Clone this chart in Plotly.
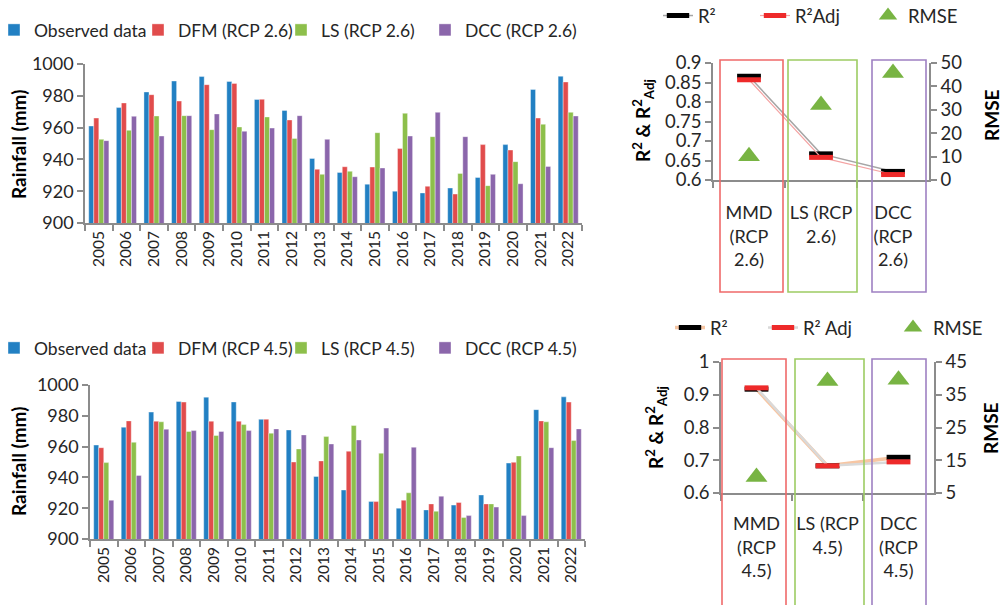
import plotly.graph_objects as go

# ---- annual rainfall (mm), observed vs. downscaled projections ----
years = [str(y) for y in range(2005, 2023)]
observed = [961.0, 972.6, 982.4, 989.3, 992.1, 989.0, 977.7, 970.8, 940.6,
            931.8, 924.4, 920.0, 918.9, 922.0, 928.6, 949.3, 984.0, 992.3]

dfm_26 = [966.0, 975.5, 980.7, 976.7, 987.0, 987.8, 977.8, 964.8, 933.8,
          935.4, 935.2, 946.8, 923.1, 918.2, 949.3, 945.9, 966.0, 988.7]
ls_26 = [952.6, 958.3, 967.3, 967.5, 958.7, 960.4, 966.7, 953.2, 930.6,
         932.5, 956.8, 969.0, 954.3, 931.2, 923.5, 938.6, 962.1, 969.6]
dcc_26 = [951.8, 967.1, 954.7, 967.5, 968.6, 957.7, 959.7, 967.5, 952.6,
          929.1, 934.6, 954.7, 969.6, 954.3, 930.6, 924.7, 935.6, 967.3]

dfm_45 = [959.3, 976.7, 976.5, 988.9, 976.5, 976.5, 977.8, 950.0, 950.7,
          957.0, 924.3, 925.2, 922.8, 923.7, 922.8, 949.8, 976.7, 988.9]
ls_45 = [949.6, 962.8, 976.1, 969.8, 967.2, 974.3, 968.7, 958.5, 966.5,
         973.7, 955.7, 930.0, 918.0, 913.9, 922.8, 953.9, 976.1, 963.9]
dcc_45 = [925.2, 941.3, 971.3, 970.4, 969.8, 970.4, 971.5, 967.6, 961.7,
          964.3, 972.0, 959.6, 927.8, 915.2, 920.7, 915.2, 959.3, 971.5]

rain_ticks = [900, 920, 940, 960, 980, 1000]

# ---- goodness-of-fit statistics per method ----
methods_26 = ["MMD<br>(RCP<br>2.6)", "LS (RCP<br>2.6)", "DCC<br>(RCP<br>2.6)"]
r2_26 = [0.866, 0.667, 0.622]
r2adj_26 = [0.857, 0.658, 0.614]
rmse_26 = [10.2, 32.0, 45.7]
r2_ticks_26 = [0.6, 0.65, 0.7, 0.75, 0.8, 0.85, 0.9]
r2_labels_26 = ["0.6", "0.65", "0.7", "0.75", "0.8", "0.85", "0.9"]
rmse_ticks_26 = [0, 10, 20, 30, 40, 50]

methods_45 = ["MMD<br>(RCP<br>4.5)", "LS (RCP<br>4.5)", "DCC<br>(RCP<br>4.5)"]
r2_45 = [0.917, 0.683, 0.709]
r2adj_45 = [0.921, 0.683, 0.695]
rmse_45 = [9.9, 39.2, 39.6]
r2_ticks_45 = [0.6, 0.7, 0.8, 0.9, 1.0]
r2_labels_45 = ["0.6", "0.7", "0.8", "0.9", "1"]
rmse_ticks_45 = [5, 15, 25, 35, 45]

# ---- styling ----
FONT = "Lato"
TXT = "#262626"
AX = "#8c8c8c"
C_OBS = "#2280c3"
C_DFM = "#e14c4c"
C_LS = "#8dbf4b"
C_DCC = "#8b66ab"
C_TRI = "#78b443"
W, H = 1004, 605


def px(x):
    return x / W


def py(y):
    return 1 - y / H


fig = go.Figure()

leg_common = dict(orientation="h", xanchor="left", yanchor="middle",
                  bgcolor="rgba(0,0,0,0)", borderwidth=0,
                  font=dict(family=FONT, size=18.5, color=TXT), traceorder="normal")
bar_leg_font = dict(family=FONT, size=17.5, color=TXT)
legend_layout = {}
bar_leg_x = [-6, 138, 281, 425]


def add_bars(xa, ya, leg_names, leg_y, vals_list, names):
    # one legend box per series so the entries sit at fixed offsets
    for vals, name, col, lg, lx in zip(vals_list, names, [C_OBS, C_DFM, C_LS, C_DCC],
                                       leg_names, bar_leg_x):
        fig.add_trace(go.Bar(
            x=years, y=vals, name=name, xaxis=xa, yaxis=ya, legend=lg,
            marker=dict(color=col, line=dict(color="rgba(255,255,255,0.55)", width=0.7)),
        ))
        legend_layout[lg] = dict(x=px(lx), y=py(leg_y),
                                 **{**leg_common, "font": bar_leg_font})


add_bars("x", "y", ["legend", "legend5", "legend6", "legend7"], 30,
         [observed, dfm_26, ls_26, dcc_26],
         ["Observed data", "DFM (RCP 2.6)", "LS (RCP 2.6)", "DCC (RCP 2.6)"])
add_bars("x2", "y2", ["legend2", "legend8", "legend9", "legend10"], 348,
         [observed, dfm_45, ls_45, dcc_45],
         ["Observed data", "DFM (RCP 4.5)", "LS (RCP 4.5)", "DCC (RCP 4.5)"])


def add_fit(xa, ya, yb, leg, cats, r2, r2adj, rmse, line_r2, line_adj, w_r2, w_adj, names):
    fig.add_trace(go.Scatter(
        x=cats, y=r2, name=names[0], xaxis=xa, yaxis=ya, legend=leg, mode="lines+markers",
        line=dict(color=line_r2, width=w_r2),
        marker=dict(symbol="line-ew", size=17, line=dict(color="black", width=5)),
        legendwidth=names[3],
    ))
    fig.add_trace(go.Scatter(
        x=cats, y=r2adj, name=names[1], xaxis=xa, yaxis=ya, legend=leg, mode="lines+markers",
        line=dict(color=line_adj, width=w_adj),
        marker=dict(symbol="line-ew", size=17, line=dict(color="#ee2a2a", width=5)),
        legendwidth=names[4],
    ))
    fig.add_trace(go.Scatter(
        x=cats, y=rmse, name=names[2], xaxis=xa, yaxis=yb, legend=leg, mode="markers",
        marker=dict(symbol="triangle-up", size=19, color=C_TRI),
        legendwidth=80,
    ))


add_fit("x3", "y3", "y4", "legend3", methods_26, r2_26, r2adj_26, rmse_26,
        "#a6a6a6", "#f4a3a3", 1.5, 1.2, ["R²", "R²Adj", "RMSE", 52, 68])
add_fit("x4", "y5", "y6", "legend4", methods_45, r2_45, r2adj_45, rmse_45,
        "#f7c6a3", "#d9d9d9", 3.5, 2.5, ["R²", "R² Adj", "RMSE", 48, 85])

tick_font = dict(family=FONT, size=18, color=TXT)
r_tick_font = dict(family=FONT, size=18.5, color=TXT)
year_font = dict(family=FONT, size=15.5, color=TXT)

bar_x = dict(type="category", showline=True, linecolor=AX, linewidth=1.5,
             ticks="outside", tickson="boundaries", ticklen=6, tickcolor=AX,
             tickwidth=1.5, tickangle=-90, tickfont=year_font, showgrid=False)
bar_y = dict(range=[900, 1000], tickvals=rain_ticks, showline=True, linecolor=AX,
             linewidth=1.5, ticks="outside", ticklen=6, tickcolor=AX, tickwidth=1.5,
             tickfont=tick_font, showgrid=False, zeroline=False)
cat_x = dict(type="category", range=[-0.5, 2.5], showline=True, linecolor=AX,
             linewidth=1.5, ticks="outside", tickson="boundaries", ticklen=6,
             tickcolor=AX, tickwidth=1.5, tickangle=0,
             tickfont=dict(family=FONT, size=18, color=TXT), showgrid=False)
r_y = dict(showline=True, linecolor=AX, linewidth=1.5, ticks="outside", ticklen=6,
           tickcolor=AX, tickwidth=1.5, tickfont=r_tick_font, showgrid=False,
           zeroline=False)

fig.update_layout(
    width=W, height=H, margin=dict(l=0, r=0, t=0, b=0, autoexpand=False),
    paper_bgcolor="white", plot_bgcolor="rgba(0,0,0,0)",
    font=dict(family=FONT, color=TXT),
    barmode="group", bargap=0.27, bargroupgap=0.0,
    xaxis=dict(domain=[px(85), px(582)], anchor="y", **bar_x),
    yaxis=dict(domain=[py(223), py(64)], anchor="x", **bar_y),
    xaxis2=dict(domain=[px(90), px(585)], anchor="y2", **bar_x),
    yaxis2=dict(domain=[py(539), py(385)], anchor="x2", **bar_y),
    xaxis3=dict(domain=[px(713), px(929)], anchor="y3", ticklabelstandoff=16, **cat_x),
    yaxis3=dict(domain=[py(180), py(63)], anchor="x3", range=[0.6, 0.9],
                tickvals=r2_ticks_26, ticktext=r2_labels_26, **r_y),
    yaxis4=dict(domain=[py(180), py(63)], anchor="x3", overlaying="y3", side="right",
                range=[0, 50], tickvals=rmse_ticks_26, **r_y),
    xaxis4=dict(domain=[px(721), px(934)], anchor="y5", ticklabelstandoff=14, **cat_x),
    yaxis5=dict(domain=[py(493), py(362)], anchor="x4", range=[0.6, 1.0],
                tickvals=r2_ticks_45, ticktext=r2_labels_45, **r_y),
    yaxis6=dict(domain=[py(493), py(362)], anchor="x4", overlaying="y5", side="right",
                range=[5, 45], tickvals=rmse_ticks_45, **r_y),
    showlegend=True,
)

legend_layout["legend3"] = dict(x=px(658), y=py(16), **leg_common)
legend_layout["legend4"] = dict(x=px(670), y=py(328), **leg_common)
fig.update_layout(**legend_layout)

# axis titles
title_font = dict(family=FONT, size=19, color="black")
ann = dict(xref="paper", yref="paper", textangle=-90, showarrow=False,
           xanchor="center", yanchor="middle", font=title_font)
for yc in (145, 462):
    fig.add_annotation(x=px(18), y=py(yc), text="<b>Rainfall (mm)</b>", **ann)
fig.add_annotation(x=px(643), y=py(121),
                   text="<b>R<sup>2</sup> & R<sup>2</sup><sub>Adj</sub></b>", **ann)
fig.add_annotation(x=px(656), y=py(428),
                   text="<b>R<sup>2</sup> & R<sup>2</sup><sub>Adj</sub></b>", **ann)
fig.add_annotation(x=px(991), y=py(115), text="<b>RMSE</b>", **ann)
fig.add_annotation(x=px(990), y=py(428), text="<b>RMSE</b>", **ann)

# method frames around each category
frames = [
    (720, 783, 60, 292, "#ef6a6a"), (788, 857, 60, 292, "#9dcc63"), (872, 926, 60, 292, "#9e80c2"),
    (722, 786, 359, 610, "#ef6a6a"), (795, 864, 359, 610, "#9dcc63"), (872, 926, 359, 610, "#9e80c2"),
]
for x0, x1, y0, y1, col in frames:
    fig.add_shape(type="rect", xref="paper", yref="paper",
                  x0=px(x0), x1=px(x1), y0=py(y1), y1=py(y0),
                  line=dict(color=col, width=1.6), fillcolor="rgba(0,0,0,0)", layer="above")

fig.write_html("out.html")
